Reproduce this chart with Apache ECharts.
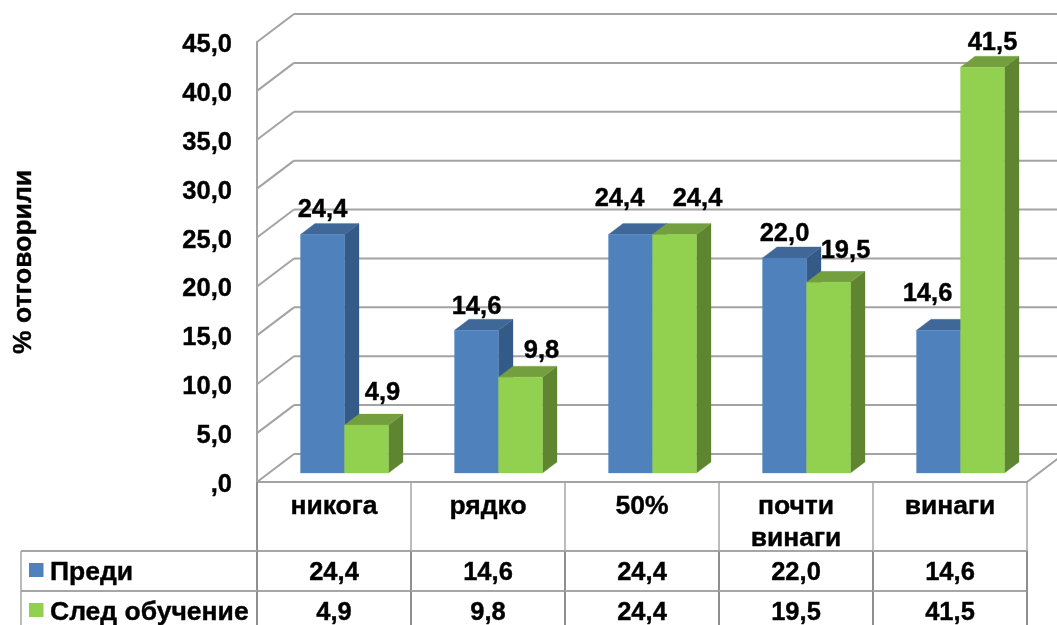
<!DOCTYPE html>
<html><head><meta charset="utf-8">
<style>html,body{margin:0;padding:0;background:#fff;overflow:hidden}#c{width:1057px;height:625px}</style>
<script src="https://cdn.jsdelivr.net/npm/echarts@6/dist/echarts.min.js"></script>
</head><body><div id="c"></div>
<script>
const categories = ['никога', 'рядко', '50%', 'почти\nвинаги', 'винаги'];
const before = [24.4, 14.6, 24.4, 22.0, 14.6];
const after = [4.9, 9.8, 24.4, 19.5, 41.5];
const yTicks = [0, 5, 10, 15, 20, 25, 30, 35, 40, 45];
const seriesNames = ['Преди', 'След обучение'];
const axisTitle = '% отговорили';

// Hand placement of the data labels, relative to the top-centre of each bar [dx, dy]
const beforeNudge = [[0, -26], [0, -25], [-11, -37], [0, -25], [-11, -38]];
const afterNudge = [[16, -34], [21, -28], [23, -37], [17, -33], [10, -26]];

const FAMILY = '"Liberation Sans", Arial, sans-serif';
const NUM_FONT = 'bold 25.5px ' + FAMILY;
const WORD_FONT = 'bold 26.5px ' + FAMILY;
const fmt = v => { const s = v.toFixed(1).replace('.', ','); return s === '0,0' ? ',0' : s; };
const GRID = '#a3a3a3', TABLE = '#8f8f8f', TABLE_LIGHT = '#a6a6a6';
const BACK = [37, -28];           // wall depth
const FRONT = [10.5, -9];         // bar plane relative to the axis plane
const DEPTH = [14.5, -11];        // bar depth
const BAR_W = 44;
const ROW1 = 591 - 482 - 40, ROW_H = 40;  // first table row top, below the axis
const LEFT_X = 21;
const C = {
  blue: { front: '#4f81bd', top: '#3f6797', side: '#345a88' },
  green: { front: '#92d050', top: '#739f3e', side: '#5f8531' }
};

const line = (x1, y1, x2, y2, stroke, lineWidth) => ({
  type: 'line', shape: { x1, y1, x2, y2 }, style: { stroke, lineWidth }, silent: true
});
const text = (x, y, t, align, font) => ({
  type: 'text', silent: true,
  style: { x, y: y + 1.5, text: t, font: font || NUM_FONT, fill: '#000', stroke: '#000', lineWidth: 0.4,
           align: align || 'center', verticalAlign: 'middle',
           textAlign: align || 'center', textVerticalAlign: 'middle', textBaseline: 'middle' }
});
const poly = (points, fill) => ({ type: 'polygon', shape: { points }, style: { fill, stroke: fill, lineWidth: 0.3 }, silent: true });

function renderWall(params, api) {
  const half = api.size([1, 0])[0] / 2;
  const p = api.coord([0, api.value(1)]);
  const xl = p[0] - half;
  const xr = api.coord([categories.length - 1, 0])[0] + half;
  const children = [
    line(xl, p[1], xl + BACK[0], p[1] + BACK[1], GRID, 2),
    line(xl + BACK[0], p[1] + BACK[1], xr + BACK[0], p[1] + BACK[1], GRID, 2)
  ];
  if (api.value(1) === 0) children.push(line(xr, p[1], xr + BACK[0], p[1] + BACK[1], GRID, 2));
  return { type: 'group', children };
}

function makeBar(colors, side, nudges) {
  return function (params, api) {
    const idx = api.value(0), val = api.value(1);
    const top = api.coord([idx, val]), base = api.coord([idx, 0]);
    const mid = top[0] + FRONT[0];
    const x0 = side === 0 ? mid - BAR_W : mid, x1 = x0 + BAR_W;
    const yT = top[1] + FRONT[1], yB = base[1] + FRONT[1];
    const [dx, dy] = DEPTH;
    const n = nudges[params.dataIndex];
    return {
      type: 'group',
      children: [
        poly([[x1, yT], [x1 + dx, yT + dy], [x1 + dx, yB + dy], [x1, yB]], colors.side),
        poly([[x0, yT], [x0 + dx, yT + dy], [x1 + dx, yT + dy], [x1, yT]], colors.top),
        poly([[x0, yT], [x1, yT], [x1, yB], [x0, yB]], colors.front),
        text((x0 + x1) / 2 + n[0], yT + n[1], fmt(val))
      ]
    };
  };
}

function renderTable(params, api) {
  const i = api.value(0);
  const half = api.size([1, 0])[0] / 2;
  const p = api.coord([i, 0]);
  const cx = p[0], y0 = p[1];
  const xl = cx - half, xr = cx + half;
  const r1 = y0 + ROW1, r2 = r1 + ROW_H, r3 = r2 + ROW_H;
  const children = [
    line(xr, y0, xr, r1, TABLE_LIGHT, 1.5),
    line(xl, r1, xr, r1, TABLE_LIGHT, 2),
    line(xl, r2, xr, r2, TABLE_LIGHT, 2),
    line(xr, r1, xr, r3, TABLE, 2),
    text(cx, r1 + 20, fmt(api.value(1))),
    text(cx, r2 + 20, fmt(api.value(2)))
  ];
  if (i === 0) {
    children.push(
      line(xl, y0, xl, r3, TABLE, 2),
      line(LEFT_X, r1, xl, r1, TABLE_LIGHT, 2),
      line(LEFT_X, r2, xl, r2, TABLE_LIGHT, 2),
      line(LEFT_X, r1, LEFT_X, r3, TABLE_LIGHT, 1.5),
      { type: 'rect', shape: { x: 29, y: r1 + 12, width: 14.5, height: 14 }, style: { fill: C.blue.front }, silent: true },
      { type: 'rect', shape: { x: 29, y: r2 + 12, width: 14.5, height: 14 }, style: { fill: C.green.front }, silent: true },
      text(50, r1 + 20, seriesNames[0], 'left', WORD_FONT),
      text(50, r2 + 20, seriesNames[1], 'left', WORD_FONT)
    );
  }
  return { type: 'group', children };
}

const chart = echarts.init(document.getElementById('c'), null, { renderer: 'canvas' });
chart.setOption({
  animation: false,
  backgroundColor: '#fff',
  grid: { left: 257, right: 30, top: 42, bottom: 143 },
  xAxis: {
    type: 'category', data: categories,
    axisLine: { show: true, lineStyle: { color: GRID, width: 2 } },
    axisTick: { show: false },
    axisLabel: { color: '#000', fontFamily: FAMILY, fontWeight: 'bold', fontSize: 26.5,
                 textBorderColor: '#000', textBorderWidth: 0.4,
                 lineHeight: 32, margin: 9, interval: 0, verticalAlign: 'top' }
  },
  yAxis: {
    type: 'value', min: 0, max: 45, interval: 5,
    name: axisTitle, nameLocation: 'middle', nameRotate: 90, nameGap: 220,
    nameTextStyle: { color: '#000', fontFamily: FAMILY, fontWeight: 'bold', fontSize: 26.5,
                     textBorderColor: '#000', textBorderWidth: 0.4 },
    axisLine: { show: true, lineStyle: { color: GRID, width: 2 } },
    axisTick: { show: false },
    splitLine: { show: false },
    axisLabel: { color: '#000', fontFamily: FAMILY, fontWeight: 'bold', fontSize: 25.5, margin: 25,
                 textBorderColor: '#000', textBorderWidth: 0.4,
                 verticalAlign: 'top', lineHeight: 6, formatter: fmt }
  },
  series: [
    { type: 'custom', name: 'wall', renderItem: renderWall, data: yTicks.map(v => [0, v]), encode: { x: 0, y: 1 }, z: 1, silent: true },
    { type: 'custom', name: seriesNames[0], renderItem: makeBar(C.blue, 0, beforeNudge), data: before.map((v, i) => [i, v]), encode: { x: 0, y: 1 }, z: 2, silent: true },
    { type: 'custom', name: seriesNames[1], renderItem: makeBar(C.green, 1, afterNudge), data: after.map((v, i) => [i, v]), encode: { x: 0, y: 1 }, z: 3, silent: true },
    { type: 'custom', name: 'table', renderItem: renderTable, data: before.map((v, i) => [i, v, after[i]]), encode: { x: 0, y: 1 }, z: 4, silent: true }
  ]
});
</script></body></html>
